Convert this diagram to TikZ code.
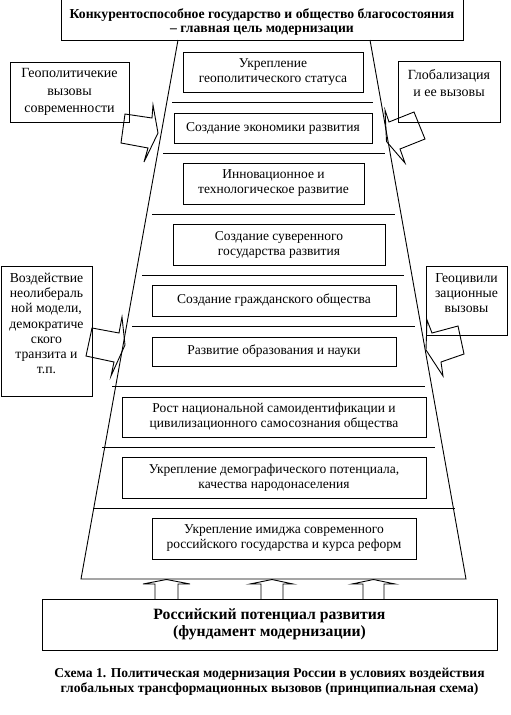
\documentclass[tikz,border=0pt]{standalone}
\usepackage{fontspec}
\setmainfont{Liberation Serif}
\usepackage{tikz}
\usetikzlibrary{positioning}

\begin{document}
\begin{tikzpicture}[
    x=1pt, y=-1pt,
    line width=0.9pt,
    cel/.style={
        rectangle,
        draw,
        align=center,
        inner sep=0pt,
        font=\fontsize{13.7}{14}\selectfont\bfseries
    },
    stupen/.style={
        rectangle,
        draw,
        align=center,
        inner sep=0pt,
        font=\fontsize{13.5}{15}\selectfont
    },
    vyzov/.style={
        rectangle,
        draw,
        align=center,
        inner sep=0pt,
        font=\fontsize{13.7}{15.3}\selectfont
    },
    osnova/.style={
        rectangle,
        draw,
        align=center,
        inner sep=0pt,
        font=\fontsize{15.7}{17}\selectfont\bfseries
    },
    podpis/.style={
        align=center,
        inner sep=0pt,
        font=\fontsize{13.6}{15}\selectfont\bfseries
    },
    strelka/.style={
        draw,
        line join=miter
    }
]
\useasboundingbox (0,0) rectangle (511,715);

\node[cel, text height=29pt, text depth=3pt, minimum width=402pt, minimum height=41pt] (cel) at (262,19.5) {Конкурентоспособное государство и общество благосостояния\\– главная цель модернизации};

% trapecija
\coordinate (lv) at (178,40);
\coordinate (pv) at (370,40);
\coordinate (ln) at (81,579);
\coordinate (pn) at (466,579);
\draw (lv) -- (ln) -- (pn) -- (pv);

\draw (172,102) -- (373,102);
\draw (163,153.5) -- (385,153.5);
\draw (152,214) -- (395,214);
\draw (142,275) -- (404,275);
\draw (132,326) -- (415,326);
\draw (112,386) -- (425,386);
\draw (102,447) -- (435,447);
\draw (93,508) -- (455,508);

\node[stupen, minimum width=180pt, minimum height=40pt] (geopol) at (273,72) {Укрепление\\геополитического статуса};
\node[stupen, minimum width=198pt, minimum height=30pt] (ekonom) at (273,128) {Создание экономики развития};
\node[stupen, minimum width=181pt, minimum height=41pt] (innov) at (273.5,183.5) {Инновационное и\\технологическое развитие};
\node[stupen, minimum width=212pt, minimum height=41pt] (suveren) at (279,244.5) {Создание суверенного\\государства развития};
\node[stupen, minimum width=244pt, minimum height=31pt] (grazhd) at (274,300.5) {Создание гражданского общества};
\node[stupen, minimum width=244pt, minimum height=29pt] (obraz) at (274,351.5) {Развитие образования и науки};
\node[stupen, minimum width=304pt, minimum height=40pt] (ident) at (274,417) {Рост национальной самоидентификации и\\цивилизационного самосознания общества};
\node[stupen, minimum width=304pt, minimum height=41pt] (demogr) at (274,477.5) {Укрепление демографического потенциала,\\качества народонаселения};
\node[stupen, minimum width=264pt, minimum height=41pt] (imidzh) at (284,538.5) {Укрепление имиджа современного\\российского государства и курса реформ};

% vneshnie vyzovy
\node[vyzov, font=\fontsize{14}{17.5}\selectfont, minimum width=119pt, minimum height=60pt] (geovyz) at (69.5,92) {Геополитичекие\\вызовы\\современности};
\node[vyzov, font=\fontsize{14}{17}\selectfont, minimum width=102pt, minimum height=61pt] (global) at (449,91.5) {Глобализация\\и ее вызовы\\~};
\node[vyzov, minimum width=91pt, minimum height=130pt] (neolib) at (46.5,331) {Воздействие\\неолибераль\\ной модели,\\демократиче\\ского\\транзита и\\т.п.\\~};
\node[vyzov, minimum width=81pt, minimum height=69pt] (geociv) at (466.5,300.5) {Геоцивили\\зационные\\вызовы\\~};

\draw[strelka] (125,114) -- (152,118) -- (153,105) -- (158,133) -- (144,162) -- (148,148) -- (121,143) -- cycle;
\draw[strelka] (385,110) -- (389,122) -- (414,112) -- (425,139) -- (400,149) -- (405,163) -- (386.5,141.5) -- cycle;
\draw[strelka] (92,328) -- (119,333) -- (122,317) -- (125,345) -- (111,376) -- (114,362) -- (86,356) -- cycle;
\draw[strelka] (427,320) -- (432,333) -- (458,326) -- (464,354) -- (441,362) -- (443,376) -- (426,350) -- cycle;

\node[osnova, minimum width=455pt, minimum height=51pt] (potencial) at (269.5,624.5) {Российский потенциал развития\\(фундамент модернизации)};

\draw[strelka] (155,599) -- (155,584) -- (143,584) -- (166.5,579.5) -- (190,584) -- (178,584) -- (178,599);
\draw[strelka] (261,599) -- (261,584) -- (250,584) -- (272,579.5) -- (293,584) -- (283,584) -- (283,599);
\draw[strelka] (363,599) -- (363,584) -- (352,584) -- (373.5,579.5) -- (395,584) -- (384,584) -- (384,599);

\node[podpis, below=17pt of potencial] (shema) {Схема 1. Политическая модернизация России в условиях воздействия\\глобальных трансформационных вызовов (принципиальная схема)};

\end{tikzpicture}
\end{document}
